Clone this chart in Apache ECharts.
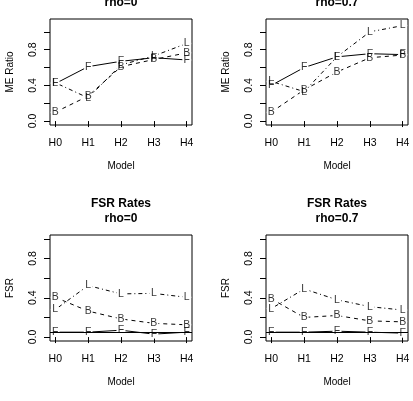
<!DOCTYPE html>
<html><head><meta charset="utf-8">
<script src="https://cdn.jsdelivr.net/npm/echarts@6/dist/echarts.min.js"></script>
<style>html,body{margin:0;padding:0;background:#fff}#c{width:413px;height:401px}</style>
</head><body><div id="c"></div>
<script>
var categories = ['H0','H1','H2','H3','H4'];
var yTicks = [0, 0.2, 0.4, 0.6, 0.8, 1.0];
var yTickLabels = [0, 0.4, 0.8];
// ME Ratio, rho=0
var meRho0_F = [0.42, 0.61, 0.67, 0.71, 0.685];
var meRho0_B = [0.10, 0.28, 0.61, 0.69, 0.765];
var meRho0_L = [0.43, 0.26, 0.63, 0.73, 0.87];
// ME Ratio, rho=0.7
var meRho07_F = [0.40, 0.60, 0.72, 0.755, 0.745];
var meRho07_B = [0.10, 0.35, 0.55, 0.71, 0.74];
var meRho07_L = [0.445, 0.33, 0.72, 1.00, 1.07];
// FSR Rates, rho=0
var fsrRho0_F = [0.05, 0.05, 0.07, 0.03, 0.05];
var fsrRho0_B = [0.405, 0.265, 0.185, 0.14, 0.125];
var fsrRho0_L = [0.28, 0.525, 0.44, 0.445, 0.405];
// FSR Rates, rho=0.7
var fsrRho07_F = [0.05, 0.05, 0.06, 0.05, 0.04];
var fsrRho07_B = [0.39, 0.20, 0.22, 0.165, 0.155];
var fsrRho07_L = [0.29, 0.49, 0.38, 0.31, 0.275];
var fsrRefLine = 0.05;

var FONT = "'Liberation Sans', Arial, sans-serif";
var panels = [
  {title1:'ME Ratio', title2:'rho=0', yName:'ME Ratio', ymax:1.1, F:meRho0_F, B:meRho0_B, L:meRho0_L, ref:false, left:50, top:19},
  {title1:'ME Ratio', title2:'rho=0.7', yName:'ME Ratio', ymax:1.1, F:meRho07_F, B:meRho07_B, L:meRho07_L, ref:false, left:266, top:19},
  {title1:'FSR Rates', title2:'rho=0', yName:'FSR', ymax:1.0, F:fsrRho0_F, B:fsrRho0_B, L:fsrRho0_L, ref:true, left:50, top:235},
  {title1:'FSR Rates', title2:'rho=0.7', yName:'FSR', ymax:1.0, F:fsrRho07_F, B:fsrRho07_B, L:fsrRho07_L, ref:true, left:266, top:235}
];
var W = 142, H = 106;
function pts(arr){ return arr.map(function(v,i){ return [i+1, v]; }); }

var grid=[], xAxis=[], yAxis=[], series=[], graphic=[];
panels.forEach(function(p, k){
  grid.push({left:p.left, top:p.top, width:W, height:H, show:true, borderColor:'#000', borderWidth:1, backgroundColor:'transparent'});
  xAxis.push({type:'value', gridIndex:k, min:0.84, max:5.16, splitLine:{show:false},
    axisLine:{show:false}, axisTick:{show:true, inside:false, length:6, customValues:[1,2,3,4,5], lineStyle:{color:'#000'}},
    axisLabel:{customValues:[1,2,3,4,5], formatter:function(v){return categories[Math.round(v)-1];}, color:'#000', fontSize:10.5, fontFamily:FONT, margin:13},
    name:'Model', nameLocation:'middle', nameGap:36, nameTextStyle:{color:'#000', fontSize:10, fontFamily:FONT}});
  var r = p.ymax*0.04;
  yAxis.push({type:'value', gridIndex:k, min:-r, max:p.ymax+r, splitLine:{show:false},
    axisLine:{show:false}, axisTick:{show:true, length:6, customValues:yTicks, lineStyle:{color:'#000'}},
    axisLabel:{customValues:yTickLabels, rotate:90, formatter:function(v){return v.toFixed(1);}, color:'#000', fontSize:10.5, fontFamily:FONT, margin:11},
    name:p.yName, nameLocation:'middle', nameGap:35, nameTextStyle:{color:'#000', fontSize:10, fontFamily:FONT}});
  var cx = p.left + W/2;
  graphic.push({type:'text', x:cx, y:p.top-31, style:{text:p.title1, textAlign:'center', textVerticalAlign:'middle', font:'bold 12px '+FONT, fill:'#000'}});
  graphic.push({type:'text', x:cx, y:p.top-16, style:{text:p.title2, textAlign:'center', textVerticalAlign:'middle', font:'bold 12px '+FONT, fill:'#000'}});
  var defs = [['F', p.F, 'solid'], ['B', p.B, [4,4]], ['L', p.L, [1,3,4,3]]];
  defs.forEach(function(d, j){
    var s = {type:'line', xAxisIndex:k, yAxisIndex:k, data:pts(d[1]), symbol:'circle', symbolSize:9,
      itemStyle:{color:'#fff', borderWidth:0}, lineStyle:{color:'#000', width:1, type:d[2]},
      label:{show:false}, emphasis:{disabled:true}, animation:false, silent:true, z:2};
    if (p.ref && d[0]==='F') {
      s.markLine = {symbol:'none', silent:true, animation:false, label:{show:false},
        lineStyle:{color:'#000', width:1, type:'solid'}, data:[{yAxis:fsrRefLine}]};
    }
    series.push(s);
  });
  defs.forEach(function(d){
    series.push({type:'scatter', xAxisIndex:k, yAxisIndex:k, data:pts(d[1]), symbol:'circle', symbolSize:1,
      itemStyle:{color:'rgba(0,0,0,0)'},
      label:{show:true, position:'inside', formatter:d[0], color:'#000', fontSize:10.5, fontFamily:FONT},
      emphasis:{disabled:true}, animation:false, silent:true, z:10});
  });
});
var chart = echarts.init(document.getElementById('c'), null, {renderer:'canvas'});
chart.setOption({animation:false, backgroundColor:'#fff', grid:grid, xAxis:xAxis, yAxis:yAxis, series:series, graphic:graphic});
</script></body></html>
